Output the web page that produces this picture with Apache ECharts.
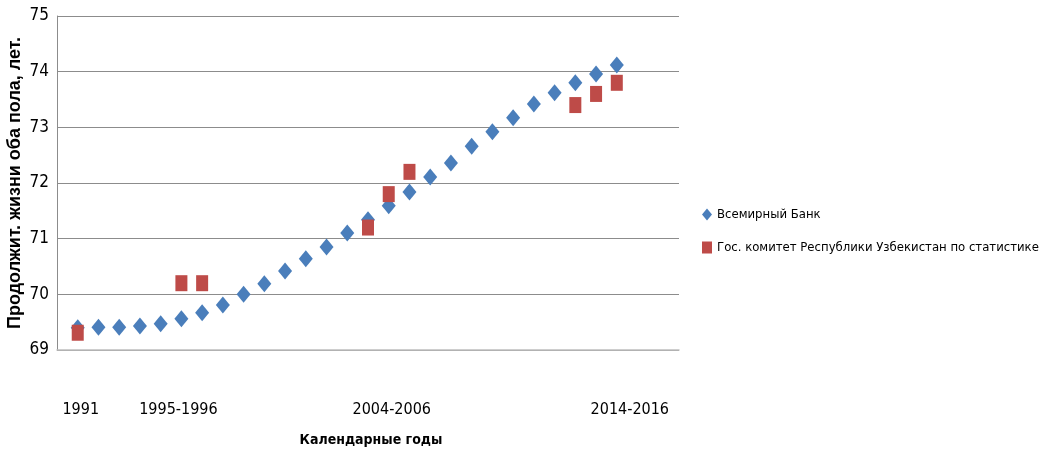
<!DOCTYPE html>
<html><head><meta charset="utf-8">
<script src="https://cdn.jsdelivr.net/npm/echarts@6/dist/echarts.min.js"></script>
<style>html,body{margin:0;padding:0;background:#fff}#c{width:1048px;height:452px}</style>
</head><body><div id="c"></div>
<script>
const xLabels = ["", "1991", "", "", "", "", "1995-1996", "", "", "", "", "", "", "", "", "", "2004-2006", "", "", "", "", "", "", "", "", "", "", "2014-2016", "", "", ""];
const worldBank = [null, 69.40, 69.41, 69.41, 69.43, 69.47, 69.56, 69.67, 69.81, 70.00, 70.19, 70.42, 70.64, 70.85, 71.10, 71.34, 71.59, 71.84, 72.11, 72.36, 72.66, 72.92, 73.17, 73.42, 73.62, 73.80, 73.96, 74.12, null, null, null];
const goskomstat = [null, 69.31, null, null, null, null, 70.2, 70.2, null, null, null, null, null, null, null, 71.2, 71.8, 72.2, null, null, null, null, null, null, null, 73.4, 73.6, 73.8, null, null, null];
const seriesNames = ["Всемирный Банк", "Гос. комитет Республики Узбекистан по статистике"];
const yName = "Продолжит. жизни оба пола, лет.";
const xName = "Календарные годы";
const FONT = "'Liberation Sans Narrow', 'DejaVu Sans Condensed', 'Liberation Sans', sans-serif";

const labelOffsets = {1: [0, 0, 0, 6], 6: [0, 6, 0, 0], 16: [0, 0, 0, 6], 27: [0, 0, 0, 26]};
const xData = xLabels.map((v, i) => labelOffsets[i] ? {value: v, textStyle: {padding: labelOffsets[i]}} : v);

const chart = echarts.init(document.getElementById('c'));
chart.setOption({
  animation: false,
  backgroundColor: '#fff',
  grid: {left: 57, right: 369, top: 16, bottom: 102, containLabel: false, outerBoundsMode: 'none'},
  legend: {
    orient: 'vertical', left: 697, top: 203, itemGap: 20,
    itemWidth: 10, itemHeight: 12,
    textStyle: {fontFamily: FONT, fontSize: 13, color: '#000'},
    data: [{name: seriesNames[0], icon: 'diamond'}, {name: seriesNames[1], icon: 'rect'}]
  },
  xAxis: {
    type: 'category', data: xData, boundaryGap: false,
    name: xName, nameLocation: 'middle', nameGap: 83, nameMoveOverlap: false,
    nameTextStyle: {fontFamily: FONT, fontSize: 14, fontWeight: 'bold', color: '#000', padding: [0, 0, 0, 6]},
    axisLine: {show: true, lineStyle: {color: '#bfbfbf', width: 1.5}},
    axisTick: {show: false},
    axisLabel: {interval: 0, margin: 52, fontFamily: FONT, fontSize: 16, color: '#000'},
    splitLine: {show: false}
  },
  yAxis: {
    type: 'value', min: 69, max: 75, interval: 1,
    name: yName, nameLocation: 'middle', nameGap: 33, nameRotate: 90, nameMoveOverlap: false,
    nameTextStyle: {fontFamily: "'Liberation Sans', Arial, sans-serif", fontSize: 18, fontWeight: 'bold', color: '#000'},
    axisLine: {show: true, lineStyle: {color: '#8c8c8c'}},
    axisTick: {show: false},
    axisLabel: {margin: 8, fontFamily: FONT, fontSize: 17, color: '#000'},
    splitLine: {show: true, lineStyle: {color: '#8c8c8c', width: 1}}
  },
  series: [
    {name: seriesNames[0], type: 'scatter', data: worldBank, symbol: 'diamond', symbolSize: [14, 17],
     itemStyle: {color: '#4a7ebb', opacity: 1}, z: 2},
    {name: seriesNames[1], type: 'scatter', data: goskomstat, symbol: 'rect', symbolSize: [12, 16],
     itemStyle: {color: '#be4b48', opacity: 1}, z: 3}
  ]
});
</script></body></html>
